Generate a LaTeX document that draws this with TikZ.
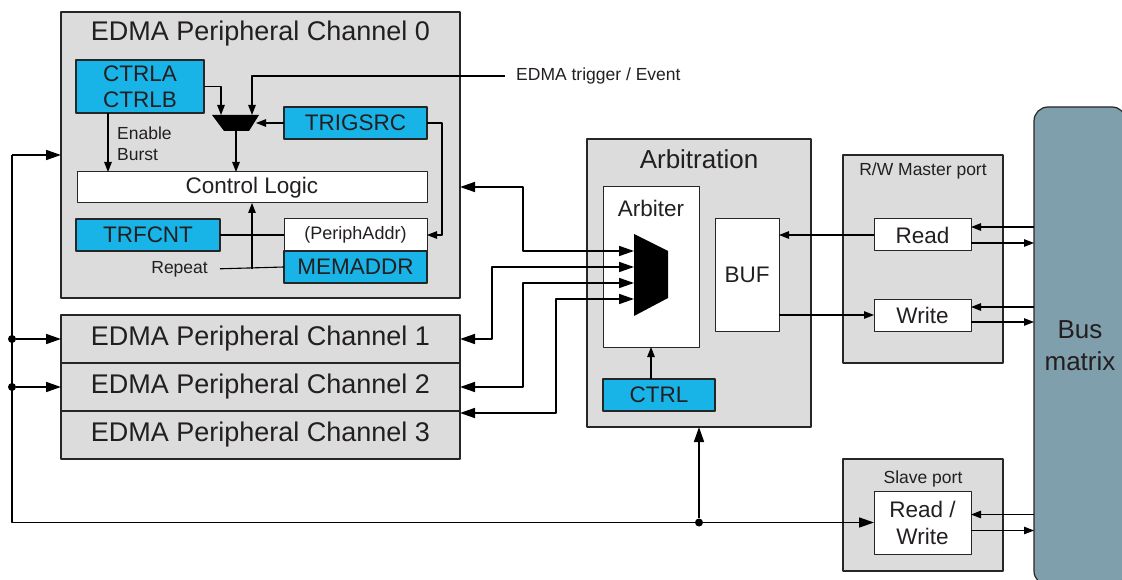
\documentclass[tikz,border=0pt]{standalone}
\usepackage{fontspec}
\setmainfont{Liberation Sans}
\usetikzlibrary{arrows.meta,positioning}
\definecolor{boxgray}{RGB}{220,220,220}
\definecolor{regblue}{RGB}{24,180,232}
\definecolor{busblue}{RGB}{127,159,172}
\definecolor{inkgray}{RGB}{35,31,32}
\newcommand{\fsbig}{\fontsize{26}{32}\selectfont}
\newcommand{\fschan}{\fontsize{27}{32}\selectfont}
\newcommand{\fsmed}{\fontsize{22.5}{26}\selectfont}
\newcommand{\fsaddr}{\fontsize{18}{22}\selectfont}
\newcommand{\fssmall}{\fontsize{17.5}{21}\selectfont}
\begin{document}
\begin{tikzpicture}[x=1pt, y=-1pt, line join=round, text=inkgray,
  box/.style={draw=black!85, line width=1.5pt, inner sep=0pt, outer sep=0pt, anchor=north west},
  graybox/.style={box, fill=boxgray},
  chanbox/.style={graybox, minimum width=399pt, minimum height=48pt, font=\fschan},
  regbox/.style={box, fill=regblue, line width=1.2pt, font=\fsmed},
  whitebox/.style={box, fill=white, line width=1pt, font=\fsmed},
  title/.style={font=\fsbig, inner sep=0pt, anchor=base},
  note/.style={font=\fssmall, inner sep=0pt},
  wire/.style={line width=1.1pt},
  bus/.style={line width=1.6pt},
  tip/.style={-{Triangle[length=10pt,width=7.5pt]}},
  bigtip/.style={-{Triangle[length=15pt,width=10pt]}},
  bothtips/.style={{Triangle[length=15pt,width=10pt]}-{Triangle[length=15pt,width=10pt]}},
  dot/.style={circle, fill=black, inner sep=0pt, minimum size=8pt}]
\useasboundingbox (0,0) rectangle (1122,580);
% Channel 0
\node[graybox, minimum width=399pt, minimum height=286pt] (ch0) at (61,12) {};
\node[title, font=\fschan] (ch0title) at ([yshift=-29pt]ch0.north) {EDMA Peripheral Channel 0};
\node[regbox, minimum width=128pt, minimum height=53pt, align=center] (ctrlab) at (76,60) {CTRLA\\CTRLB};
\node[regbox, minimum width=143pt, minimum height=32pt] (trigsrc) at (284,107) {TRIGSRC};
\node[whitebox, minimum width=350pt, minimum height=31pt] (logic) at (77,172) {Control Logic};
\node[regbox, minimum width=144pt, minimum height=32pt] (trfcnt) at (76,219) {TRFCNT};
\node[whitebox, minimum width=143pt, minimum height=32pt, font=\fsaddr] (periph) at (284,219) {(PeriphAddr)};
\node[regbox, minimum width=143pt, minimum height=32pt, below=0pt of periph] (memaddr) {MEMADDR};
\node[note, anchor=west, align=left] (burst) at (117,144) {Enable\\Burst};
\node[note, anchor=base east, inner xsep=12pt] (rep) at (220,273) {Repeat};
\node[note, anchor=west, inner xsep=11pt] (evt) at (505,76) {EDMA trigger / Event};
% Trigger mux
\fill (212,115) -- (259,115) -- (249,131) -- (224,131) -- cycle;
\coordinate (sm1) at (221,115);
\coordinate (sm2) at (252,115);
\coordinate (smr) at (256,123);
\coordinate (smo) at (236,131);
\draw[wire, tip] (ctrlab.east) -| (sm1);
\draw[wire, tip] (evt.west) -| (sm2);
\draw[wire, tip] (trigsrc.west) -- (smr);
\draw[wire, tip] (smo) -- (smo |- logic.north);
\draw[wire, tip] ([xshift=32pt]ctrlab.south west) -- ([xshift=32pt]ctrlab.south west |- logic.north);
\draw[wire, tip] (trigsrc.east) -- ++(15,0) |- (periph.east);
\draw[wire] (trfcnt.east) -- (periph.west);
\draw[wire] (rep.east) -- (memaddr.west);
\draw[wire, tip] (rep.east -| sm2) -- (sm2 |- logic.south);
% Channels 1-3
\node[chanbox] (ch1) at (61,315) {EDMA Peripheral Channel 1};
\node[chanbox, below=0pt of ch1] (ch2) {EDMA Peripheral Channel 2};
\node[chanbox, below=0pt of ch2] (ch3) {EDMA Peripheral Channel 3};
% Arbitration
\node[graybox, minimum width=224pt, minimum height=288pt] (arb) at (587,139) {};
\node[title] (arbtitle) at ([yshift=-30pt]arb.north) {Arbitration};
\node[box, fill=white, line width=1pt, minimum width=96pt, minimum height=160pt] (arbiter) at (603,187) {};
\node[title, font=\fsmed] (arbitertitle) at ([yshift=-30pt]arbiter.north) {Arbiter};
\node[whitebox, minimum width=64pt, minimum height=112pt] (buf) at (715,219) {BUF};
\node[regbox, minimum width=112pt, minimum height=32pt] (ctrl) at (603,379) {CTRL};
\fill (634,234) -- (668,251) -- (668,298) -- (634,316) -- cycle;
\foreach \k/\yy in {1/251,2/267,3/283,4/299} \coordinate (mi\k) at (634,\yy);
\draw[wire, tip] (ctrl.north -| arbiter.south) -- (arbiter.south);
\draw[bus, bothtips] (mi1) -- ++(-111,0) |- ([yshift=-32pt]ch0.east);
\draw[bus, bothtips] (mi2) -- ++(-142,0) |- (ch1.east);
\draw[bus, bothtips] (mi3) -- ++(-111,0) |- (ch2.east);
\draw[bus, bothtips] (mi4) -- ++(-78,0) |- ([yshift=-2pt]ch3.north east);
% Ports
\node[graybox, minimum width=160pt, minimum height=208pt] (master) at (843,155) {};
\node[title, font=\fssmall] (mastertitle) at ([yshift=-21pt]master.north) {R/W Master port};
\node[whitebox, minimum width=97pt, minimum height=32pt] (read) at (874,219) {Read};
\node[whitebox, minimum width=97pt, minimum height=32pt] (write) at (874,299) {Write};
\node[graybox, minimum width=160pt, minimum height=112pt] (slave) at (843,459) {};
\node[title, font=\fssmall] (slavetitle) at ([yshift=-24pt]slave.north) {Slave port};
\node[whitebox, minimum width=97pt, minimum height=63pt, align=center, font=\fontsize{22.5}{27}\selectfont] (rw) at (874,491) {Read /\\Write};
% Bus matrix
\node[box, fill=busblue, line width=1.2pt, rounded corners=14pt, minimum width=92pt, minimum height=478pt, align=center, font=\fsbig] (busm) at (1034,107) {Bus\\matrix};
\draw[wire, tip] (read.west) -- (read.west -| buf.east);
\draw[wire, tip] (write.west -| buf.east) -- (write.west);
\draw[wire, tip] ([yshift=8pt]read.east -| busm.west) -- ([yshift=8pt]read.east);
\draw[wire, tip] ([yshift=-8pt]read.east) -- ([yshift=-8pt]read.east -| busm.west);
\draw[wire, tip] ([yshift=8pt]write.east -| busm.west) -- ([yshift=8pt]write.east);
\draw[wire, tip] ([yshift=-7pt]write.east) -- ([yshift=-7pt]write.east -| busm.west);
\draw[wire, tip] ([yshift=8pt]rw.east -| busm.west) -- ([yshift=8pt]rw.east);
\draw[wire, tip] ([yshift=-8pt]rw.east) -- ([yshift=-8pt]rw.east -| busm.west);
% Left bus
\coordinate (lb) at (12,155);
\draw[bus, bigtip] (lb) -- (ch0.west);
\draw[bus, bigtip] (lb) |- (rw.west);
\node[dot] (d1) at (lb |- ch1.west) {};
\node[dot] (d2) at (lb |- ch2.west) {};
\node[dot] (d3) at (arb.south |- rw.west) {};
\draw[bus, bigtip] (d1) -- (ch1.west);
\draw[bus, bigtip] (d2) -- (ch2.west);
\draw[bus, bigtip] (d3) -- (arb.south);
\end{tikzpicture}
\end{document}
